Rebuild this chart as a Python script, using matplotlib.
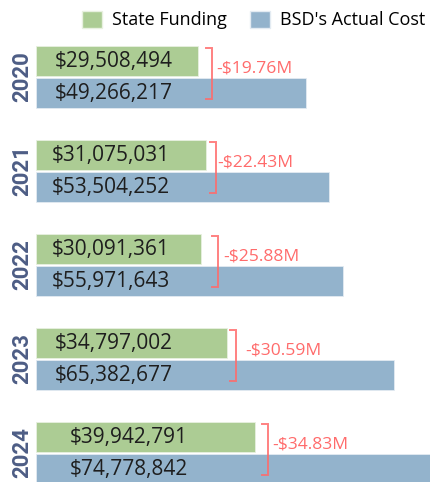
import matplotlib
matplotlib.use("Agg")
import matplotlib.pyplot as plt
from matplotlib.patches import Patch
import numpy as np

years = ["2020", "2021", "2022", "2023", "2024"]
state_funding = [29508494, 31075031, 30091361, 34797002, 39942791]
actual_cost = [49266217, 53504252, 55971643, 65382677, 74778842]
gap_labels = ["-$19.76M", "-$22.43M", "-$25.88M", "-$30.59M", "-$34.83M"]

GREEN = "#accc94"
BLUE = "#93b3cc"
RED = "#ff6b6b"
YEARC = "#4d5d85"
FONT = ["Open Sans", "DejaVu Sans"]
plt.rcParams["font.family"] = FONT

W, H = 431, 482
fig = plt.figure(figsize=(W / 100, H / 100), dpi=100)
left_px = 36
ax = fig.add_axes([left_px / W, 0, 1 - left_px / W, 1])
px_per_unit_x = 5.48e-6  # px per dollar
ax.set_xlim(0, (W - left_px) / px_per_unit_x)
spacing = 94.0
c0 = 77.0
ax.set_ylim((H - c0) / spacing, -c0 / spacing)

y = np.arange(len(years))
bh = 30 / spacing
off = 16 / spacing
ax.barh(y - off, state_funding, height=bh, color=GREEN, edgecolor="#e8f0e0", linewidth=0.6)
ax.barh(y + off, actual_cost, height=bh, color=BLUE, edgecolor="#e3ebf2", linewidth=0.6)

# value labels
label_x_px = [19, 16, 16, 19, 34]
for i in range(len(years)):
    lx = label_x_px[i] / px_per_unit_x
    ax.text(lx, y[i] - off, f"${state_funding[i]:,}", va="center", ha="left",
            fontsize=15, color="#1e1e1e")
    ax.text(lx, y[i] + off, f"${actual_cost[i]:,}", va="center", ha="left",
            fontsize=15, color="#1e1e1e")

# brackets
br_off_px = [14, 10, 17, 9, 13]
txt_off_px = [5, 1, 5, 10, 4]
tick_px = 6
for i in range(len(years)):
    bx = state_funding[i] + br_off_px[i] / px_per_unit_x
    tx = bx - tick_px / px_per_unit_x
    ytop = y[i] - 29 / spacing
    ybot = y[i] + 22 / spacing
    ax.plot([tx, bx, bx, tx], [ytop, ytop, ybot, ybot], color=RED, lw=1.4,
            solid_joinstyle="miter", alpha=0.85)
    ax.text(bx + txt_off_px[i] / px_per_unit_x, y[i] - 9 / spacing, gap_labels[i],
            va="center", ha="left", fontsize=12.6, color=RED)

ax.set_yticks(y)
ax.set_yticklabels(years, rotation=90, va="center", fontsize=16,
                   fontweight="bold", color=YEARC, family=["Roboto", "DejaVu Sans"])
ax.tick_params(axis="y", length=0, pad=2)
ax.set_xticks([])
for s in ax.spines.values():
    s.set_visible(False)

handles = [Patch(facecolor=GREEN, edgecolor="#e8f0e0", label="State Funding"),
           Patch(facecolor=BLUE, edgecolor="#e3ebf2", label="BSD's Actual Cost")]
fig.legend(handles=handles, loc="center right", bbox_to_anchor=(425 / W, 1 - 20 / H),
           ncol=2, frameon=False, fontsize=13, handlelength=1.1, handleheight=1.1,
           handletextpad=0.55, columnspacing=1.3, borderaxespad=0, borderpad=0)

fig.savefig("out.png", dpi=100)
